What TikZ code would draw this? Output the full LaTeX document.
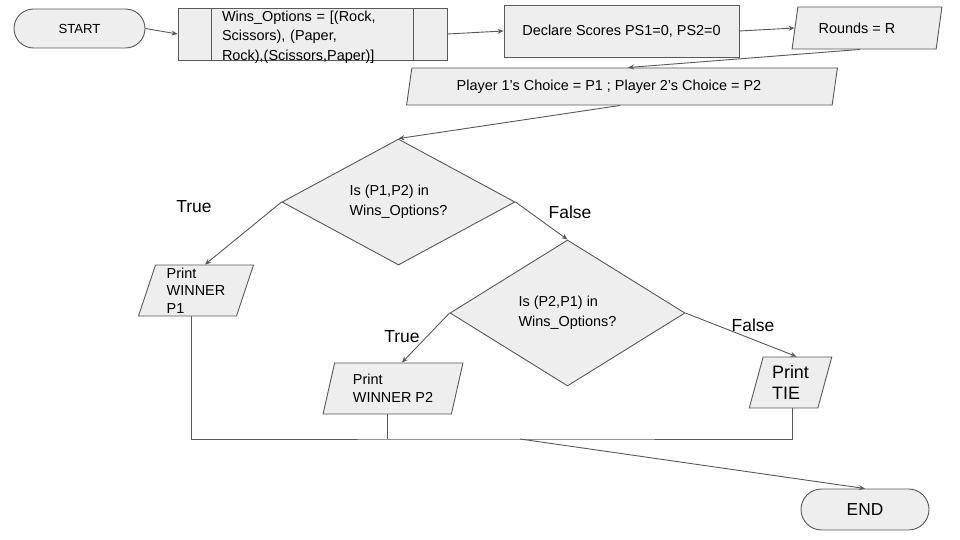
\documentclass[tikz,border=0pt]{standalone}
\usepackage{fontspec}
\setmainfont{Liberation Sans}
\usetikzlibrary{shapes.geometric,shapes.misc,arrows.meta}
\definecolor{boxfill}{HTML}{EEEEEE}
\definecolor{edgegray}{HTML}{595959}

\begin{document}
\begin{tikzpicture}[x=1bp, y=-1bp,
    every node/.style={font=\fontsize{14.5}{17.5}\selectfont},
    box/.style={draw=edgegray, fill=boxfill, line width=0.9bp, inner sep=1bp},
    terminal/.style={box, rounded rectangle},
    process/.style={box, rectangle},
    io/.style={box, trapezium, trapezium left angle=75, trapezium right angle=105,
        trapezium stretches=true, align=left},
    decision/.style={box, diamond, align=left, font=\fontsize{14.5}{20}\selectfont},
    flow/.style={draw=edgegray, line width=0.9bp},
    arrow/.style={flow, -{Stealth[length=6bp,width=5bp]}},
    branch/.style={font=\fontsize{17.5}{20}\selectfont}]
    \useasboundingbox (0,0) rectangle (960,540);

    % Top row
    \node[terminal, minimum width=133bp, minimum height=39bp,
        font=\fontsize{13.2}{16}\selectfont] (start) at (79.5,28.5) {START};
    \node[process, minimum width=269bp, minimum height=52bp, inner sep=0pt,
        text width=181bp, align=left, text height=10bp, text depth=35bp,
        font=\fontsize{14.5}{19.5}\selectfont,
        path picture={
            \draw[edgegray, line width=0.9bp]
                ([xshift=33bp]path picture bounding box.north west) -- ([xshift=33bp]path picture bounding box.south west)
                ([xshift=-34bp]path picture bounding box.north east) -- ([xshift=-34bp]path picture bounding box.south east);
        }] (wins) at (312.5,34) {Wins\_Options = [(Rock,\\Scissors), (Paper,\\Rock),(Scissors,Paper)]};
    \node[process, minimum width=235bp, minimum height=52bp] (declare) at (621.5,31) {Declare Scores PS1=0, PS2=0};
    \node[io, trapezium left angle=72, trapezium right angle=108,
        minimum width=150bp, minimum height=42bp] (rounds) at (867,28) {Rounds = R\hspace*{20bp}};
    \node[io, minimum width=432bp, minimum height=37bp] (player) at (622,86.5) {Player 1’s Choice = P1 ; Player 2’s Choice = P2\hspace*{26bp}};

    % Decisions
    \node[decision, minimum width=233bp, minimum height=126bp, aspect=1.85] (check1) at (398.5,202) {Is (P1,P2) in\\Wins\_Options?};
    \node[decision, minimum width=235bp, minimum height=146bp, aspect=1.6] (check2) at (567.5,313) {Is (P2,P1) in\\Wins\_Options?};

    % Outputs
    \node[io, minimum width=116bp, minimum height=51bp] (winp1) at (196,290.5) {Print\\WINNER\\P1};
    \node[io, minimum width=140bp, minimum height=51bp,
        font=\fontsize{14.5}{18}\selectfont] (winp2) at (393,388.5) {Print\\WINNER P2};
    \node[io, minimum width=83bp, minimum height=51bp,
        font=\fontsize{18}{22}\selectfont] (tie) at (790.5,382.5) {Print\\TIE};
    \node[terminal, minimum width=130bp, minimum height=41bp,
        font=\fontsize{17.4}{20}\selectfont] (end) at (865,509.5) {END};

    % Branch labels
    \node[branch] (true1) at (194,207) {True};
    \node[branch] (false1) at (570,212) {False};
    \node[branch] (true2) at (402,337) {True};
    \node[branch] (false2) at (753,325) {False};

    % Connectors
    \draw[arrow] (start.east) -- (wins.west);
    \draw[arrow] (wins.east) -- (declare.west);
    \draw[arrow] (declare.east) -- (rounds.west);
    \draw[arrow] ([xshift=-7bp]rounds.south) -- ([xshift=6bp]player.north);
    \draw[arrow] ([xshift=-2bp]player.south) -- (check1.north);
    \draw[arrow] (check1.west) -- ([xshift=9bp]winp1.north);
    \draw[arrow] (check1.east) -- (check2.north);
    \draw[arrow] (check2.west) -- ([xshift=9bp]winp2.north);
    \draw[arrow] (check2.east) -- ([xshift=6bp]tie.north);

    % Merge to END
    \coordinate (merge) at (520,439);
    \draw[flow] ([xshift=-5bp]winp1.south) |- (merge) -| ([xshift=1.5bp]tie.south);
    \draw[flow] ([xshift=-6bp]winp2.south) -- ([xshift=-6bp]winp2.south |- merge);
    \draw[arrow] (merge) -- (end.north);
\end{tikzpicture}
\end{document}
